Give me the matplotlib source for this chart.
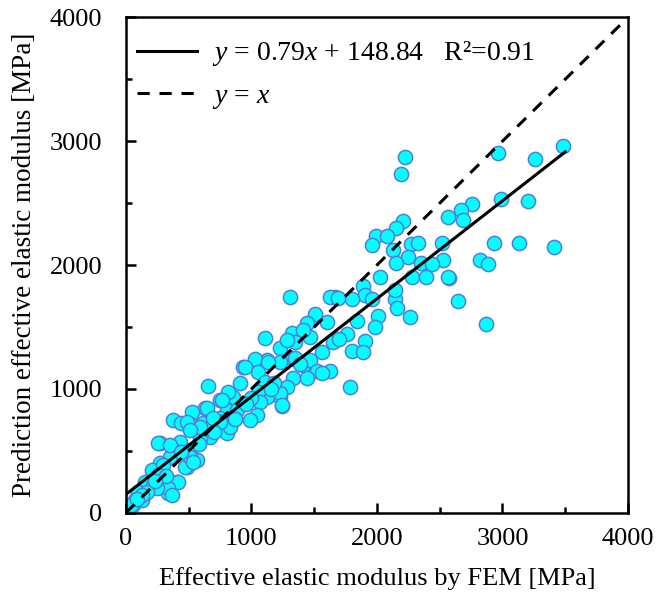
import matplotlib
matplotlib.use("Agg")
import matplotlib.pyplot as plt
import numpy as np
from matplotlib.ticker import MultipleLocator

plt.rcParams['font.family'] = ['Liberation Serif', 'DejaVu Serif']
plt.rcParams['mathtext.fontset'] = 'custom'
plt.rcParams['mathtext.it'] = 'Liberation Serif:italic'
plt.rcParams['mathtext.rm'] = 'Liberation Serif'

# FEM modulus (x) vs predicted modulus (y), MPa
fem = [
    3482, 2962, 3259, 2988, 3201, 2754, 2667, 2569, 2683, 2515, 2935, 3131, 3413,
    2529, 2821, 2882, 2574, 2643, 2869,
    2223, 2191, 2205, 2151, 1990, 2082, 1962, 2130, 2271, 2329, 2250, 2151, 2351,
    2436, 2276, 2390, 2562, 2024, 1891, 1904, 1958, 1798, 1665, 2143, 2157, 2143,
    2011, 2263,
    1307, 1625, 1692, 1506, 1599, 1440, 1984, 1320, 1466, 1759, 1108, 1413, 1347,
    1652, 1904, 1227, 1320, 1559, 1798, 1891, 1121, 1227, 1413, 1466, 1519, 1625,
    1559, 1333, 1440, 1280, 1147, 1785, 1227, 1240, 1121,
    656, 1028, 935, 908, 1054, 1108, 749, 855, 802, 629, 523, 377, 443, 523, 616,
    683, 749, 802, 669, 590, 271, 364, 430, 510, 563, 484, 417, 351, 271, 205,
    297, 404, 337, 151, 218, 98, 125, 18, 58,
    948, 1134, 1280, 1054, 815, 762, 643, 1068, 1227, 1240, 1041, 988, 829, 749,
    590, 484, 510, 882, 696,
    257, 351, 297, 257, 417, 337, 364, 245, 165, 125, 72, 18, 470, 510, 536, 443,
    1180, 1350, 1000, 870, 960, 1160, 1390, 700, 580, 320, 230, 40, 90, 1700, 1840,
]
pred = [
    2960, 2901, 2855, 2532, 2516, 2492, 2444, 2390, 2363, 2180, 2175, 2175, 2148,
    2040, 2040, 2008, 1893, 1710, 1524,
    2874, 2731, 2355, 2296, 2237, 2234, 2161, 2121, 2169, 2180, 2062, 2019, 2014,
    2006, 1901, 1901, 1901, 1901, 1833, 1758, 1726, 1723, 1744, 1723, 1651, 1798,
    1589, 1583,
    1739, 1739, 1731, 1605, 1543, 1530, 1502, 1449, 1422, 1444, 1409, 1476, 1382,
    1382, 1387, 1328, 1248, 1301, 1306, 1301, 1234, 1220, 1194, 1234, 1148, 1148,
    1126, 1086, 1086, 1019, 1019, 1019, 938, 863, 938,
    1024, 1239, 1180, 1046, 1140, 1059, 911, 938, 831, 844, 817, 750, 723, 710, 723,
    710, 764, 643, 615, 602, 562, 535, 575, 508, 427, 373, 494, 454, 401, 347,
    320, 252, 159, 252, 226, 172, 105, 38, 65,
    1175, 1220, 1395, 978, 978, 911, 844, 898, 965, 871, 790, 750, 696, 736,
    696, 736, 669, 831, 764,
    562, 548, 387, 306, 252, 199, 145, 199, 172, 145, 105, 46, 373, 454, 414, 494,
    1050, 1250, 930, 760, 880, 1000, 1200, 650, 560, 300, 260, 60, 110, 1400, 1550,
]

slope, intercept = 0.79, 148.84
fit_x = np.array([0, 3500])
diag_x = np.array([0, 4000])

fig = plt.figure(figsize=(6.59, 5.95), dpi=100)
ax = fig.add_axes([0.191, 0.138, 0.762, 0.833])

ax.scatter(fem, pred, s=105, facecolor='#00FFFF', edgecolor='#4F7FD8',
           linewidth=1.1, zorder=2)
ax.plot(fit_x, slope * fit_x + intercept, color='black', lw=2.2, zorder=3,
        label=r'$y$ = 0.79$x$ + 148.84   R²=0.91')
ax.plot(diag_x, diag_x, color='black', lw=2.2, ls=(0, (4, 3.2)), zorder=3,
        label=r'$y$ = $x$')

ax.set_xlim(0, 4000)
ax.set_ylim(0, 4000)
ax.xaxis.set_major_locator(MultipleLocator(1000))
ax.yaxis.set_major_locator(MultipleLocator(1000))
ax.xaxis.set_minor_locator(MultipleLocator(500))
ax.yaxis.set_minor_locator(MultipleLocator(500))
ax.tick_params(which='both', direction='in', labelsize=19, width=1.8,
               top=False, right=False)
ax.tick_params(which='major', length=7)
ax.tick_params(axis='x', which='major', pad=11)
ax.tick_params(axis='y', which='major', pad=17)
ax.tick_params(which='minor', length=4)
for sp in ax.spines.values():
    sp.set_linewidth(1.8)

ax.set_xlabel('Effective elastic modulus by FEM [MPa]', fontsize=19, labelpad=12)
ax.set_ylabel('Prediction effective elastic modulus [MPa]', fontsize=19.5, labelpad=9)

ax.legend(loc='upper left', bbox_to_anchor=(0, 0.978), frameon=False,
          fontsize=20, handlelength=2.15, handletextpad=0.55,
          borderaxespad=0, labelspacing=0.55)

fig.savefig('out.png', dpi=100)
